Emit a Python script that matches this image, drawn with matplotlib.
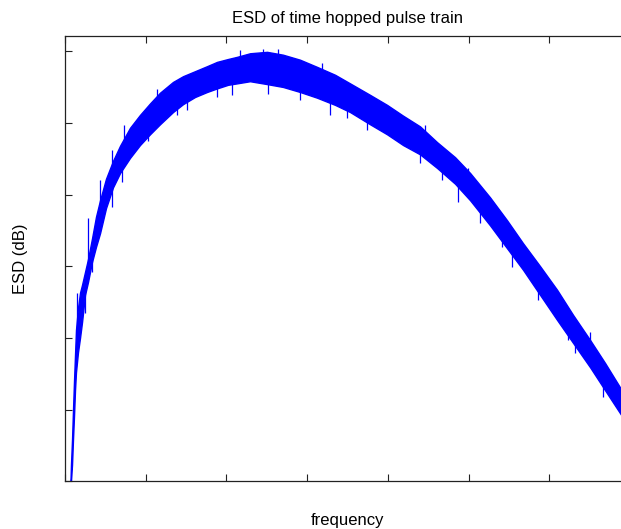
import numpy as np
import matplotlib
matplotlib.use('Agg')
import matplotlib.pyplot as plt

# 频率 (刻度单位) 与能量谱密度包络 (dB)
freq = [0.068, 0.074, 0.087, 0.099, 0.112, 0.124, 0.136, 0.161, 0.186, 0.211,
        0.248, 0.285, 0.335, 0.384, 0.434, 0.508, 0.595, 0.682, 0.805, 0.929,
        1.053, 1.177, 1.338, 1.462, 1.611, 1.760, 1.884, 2.020, 2.131, 2.292,
        2.503, 2.701, 2.912, 3.123, 3.346, 3.532, 3.779, 3.990, 4.188, 4.399,
        4.610, 4.833, 5.019, 5.266, 5.477, 5.675, 5.886, 6.097, 6.295, 6.506,
        6.691, 6.877, 7.000]
esd_upper = [-60.0, -57.7, -54.2, -50.1, -45.9, -42.4, -38.9, -35.8, -33.7, -32.6,
             -30.8, -29.0, -26.1, -23.1, -20.8, -17.8, -15.3, -13.2, -10.7, -8.9,
             -7.3, -5.8, -4.3, -3.5, -2.8, -2.1, -1.5, -1.1, -0.8, -0.3,
             -0.1, -0.5, -1.2, -2.2, -3.3, -4.5, -6.1, -7.5, -9.0, -10.5,
             -12.7, -14.8, -17.0, -20.4, -23.6, -26.8, -30.0, -33.3, -36.8, -40.3,
             -43.5, -46.9, -48.9]
esd_lower = [-60.0, -60.0, -57.7, -54.2, -50.8, -47.3, -44.8, -42.0, -40.0, -37.8,
             -34.0, -32.2, -29.4, -27.3, -25.4, -21.9, -19.0, -17.0, -14.9, -13.1,
             -11.6, -10.2, -8.5, -7.4, -6.4, -5.7, -5.2, -4.7, -4.5, -4.2,
             -4.6, -5.0, -5.7, -6.5, -7.5, -8.5, -10.2, -11.6, -13.1, -14.4,
             -16.3, -18.5, -20.8, -24.3, -27.5, -30.5, -34.0, -37.5, -40.7, -44.1,
             -47.3, -50.5, -52.6]

# 噪声尖峰：位置、起点、终点 (dB)
spike_x = [0.152, 0.288, 0.434, 0.587, 0.735, 1.136, 2.168, 2.454, 2.639, 3.185,
           4.461, 4.994, 6.506, 0.248, 0.331, 0.579, 0.706, 1.030, 1.388, 1.512,
           1.880, 2.069, 2.515, 2.912, 3.284, 3.494, 3.742, 4.114, 4.399, 4.672,
           4.870, 5.142, 5.415, 5.539, 5.861, 6.233, 6.320, 6.667]
spike_base = [-38.9, -29.8, -22.0, -16.6, -13.8, -8.2, -2.6, -2.0, -2.0, -4.0,
              -12.5, -18.7, -41.7, -32.6, -28.0, -18.5, -16.0, -10.5, -6.1, -5.5,
              -3.5, -3.0, -2.5, -3.5, -5.0, -6.0, -8.0, -9.8, -12.4, -15.0,
              -17.3, -20.5, -24.0, -26.0, -31.0, -36.5, -38.0, -44.5]
spike_tip = [-33.7, -23.3, -18.0, -13.8, -10.3, -5.3, 0.15, 0.3, 0.3, -1.7,
             -10.3, -16.3, -39.2, -36.5, -30.8, -21.7, -18.2, -12.6, -8.9, -8.2,
             -6.4, -6.1, -6.0, -6.8, -8.9, -9.3, -11.0, -12.4, -15.6, -18.0,
             -21.1, -24.0, -27.3, -30.1, -34.7, -40.3, -42.1, -48.2]

plt.rcParams['font.family'] = ['Liberation Sans', 'DejaVu Sans']

fig = plt.figure(figsize=(6.21, 5.29), dpi=100)
ax = fig.add_axes([65 / 621, 47.7 / 529, 565 / 621, 445.6 / 529])

blue = '#0000ff'
ax.fill_between(freq, esd_lower, esd_upper, color=blue, linewidth=1.0, edgecolor=blue)
ax.vlines(spike_x, spike_base, spike_tip, color=blue, linewidth=0.9)

ax.set_xlim(0, 7)
ax.set_ylim(-60, 2.15)
ax.set_xticks(np.arange(0, 8, 1))
ax.set_yticks(np.arange(-60, 1, 10))
ax.set_xticklabels([])
ax.set_yticklabels([])
ax.tick_params(direction='in', length=5, width=0.8, color='#222222',
               top=True, right=True)
for s in ax.spines.values():
    s.set_color('#222222')
    s.set_linewidth(0.9)

ax.set_title('ESD of time hopped pulse train', fontsize=12, pad=9.5)
ax.set_xlabel('frequency', fontsize=12, labelpad=19.5)
ax.set_ylabel('ESD (dB)', fontsize=12, labelpad=23)

fig.savefig('out.png', dpi=100, facecolor='white')
